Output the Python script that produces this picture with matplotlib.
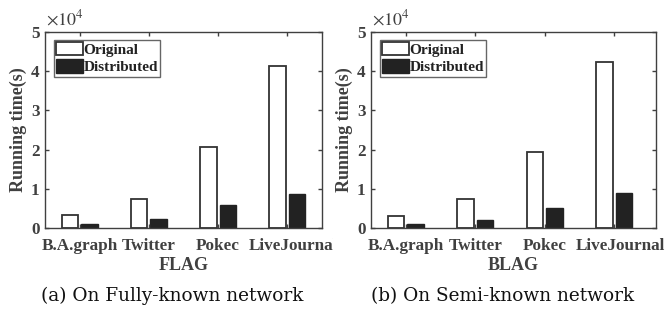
import numpy as np
import matplotlib
matplotlib.use('Agg')
import matplotlib.pyplot as plt
from matplotlib.transforms import Bbox, TransformedBbox, ScaledTranslation

# Data (running time in seconds)
datasets = ['B.A.graph', 'Twitter', 'Pokec', 'LiveJournal']
flag_original = [3400, 7300, 20600, 41300]
flag_distributed = [1100, 2400, 5800, 8700]
blag_original = [3100, 7500, 19500, 42300]
blag_distributed = [900, 2100, 5200, 8900]

plt.rcParams['font.family'] = ['Liberation Serif', 'DejaVu Serif']
plt.rcParams['mathtext.fontset'] = 'stix'
gray = '#404040'

fig = plt.figure(figsize=(6.67, 3.09), dpi=100)
ax1 = fig.add_axes([45 / 667, 81 / 309, 277 / 667, 196 / 309])
ax2 = fig.add_axes([371 / 667, 81 / 309, 285 / 667, 196 / 309])


def draw_panel(ax, orig, dist, xlabel, caption, xlim):
    x = np.arange(1, len(datasets) + 1)
    ax.bar(x - 0.14, orig, width=0.24, color='white', edgecolor='#333333',
           linewidth=1.3, label='Original')
    ax.bar(x + 0.14, dist, width=0.24, color='#222222', edgecolor='#222222',
           linewidth=1.0, label='Distributed')
    ax.set_xlim(*xlim)
    ax.set_ylim(0, 50000)
    ax.set_yticks([0, 10000, 20000, 30000, 40000, 50000])
    ax.set_yticklabels(['0', '1', '2', '3', '4', '5'])
    ax.set_xticks(x)
    ax.set_xticklabels(datasets)
    for s in ax.spines.values():
        s.set_color(gray)
        s.set_linewidth(1.0)
    ax.tick_params(direction='in', top=True, right=True, length=3, width=1.0,
                   color=gray, labelcolor=gray, labelsize=12.3)
    ax.tick_params(axis='x', pad=7)
    ax.tick_params(axis='y', pad=4)
    for lbl in ax.get_xticklabels() + ax.get_yticklabels():
        lbl.set_fontweight('bold')
    # last label sits slightly right of its group
    last = ax.get_xticklabels()[-1]
    last.set_transform(last.get_transform() + ScaledTranslation(6 / 100, 0, fig.dpi_scale_trans))
    ax.set_ylabel('Running time(s)', fontsize=13, fontweight='bold', color=gray, labelpad=3)
    ax.set_xlabel(xlabel, fontsize=13, fontweight='bold', color=gray, labelpad=2)
    ax.text(0.005, 1.015, r'$\times10^4$', transform=ax.transAxes, fontsize=13,
            color=gray, ha='left', va='bottom')
    leg = ax.legend(loc='upper left', bbox_to_anchor=(0.02, 0.975),
                    prop={'weight': 'bold', 'size': 11}, frameon=True, fancybox=False,
                    handlelength=1.75, handleheight=0.95, handletextpad=0.05,
                    borderpad=0.15, labelspacing=0.15, borderaxespad=0.2)
    leg.get_frame().set_edgecolor(gray)
    leg.get_frame().set_linewidth(1.0)
    for t in leg.get_texts():
        t.set_color('#222222')
    ax.text(0.46, -0.3, caption, transform=ax.transAxes, ha='center', va='top',
            fontsize=13.3, color='#111111', family=['DejaVu Serif'])


draw_panel(ax1, flag_original, flag_distributed, 'FLAG', '(a) On Fully-known network', (0.5, 4.5))
draw_panel(ax2, blag_original, blag_distributed, 'BLAG', '(b) On Semi-known network', (0.5, 4.6))

# the left subfigure is cropped at its right border
clip = TransformedBbox(Bbox([[0, 0], [333 / 667, 1]]), fig.transFigure)
for lbl in ax1.get_xticklabels():
    lbl.set_clip_on(True)
    lbl.set_clip_box(clip)

fig.savefig('out.png', dpi=100)
